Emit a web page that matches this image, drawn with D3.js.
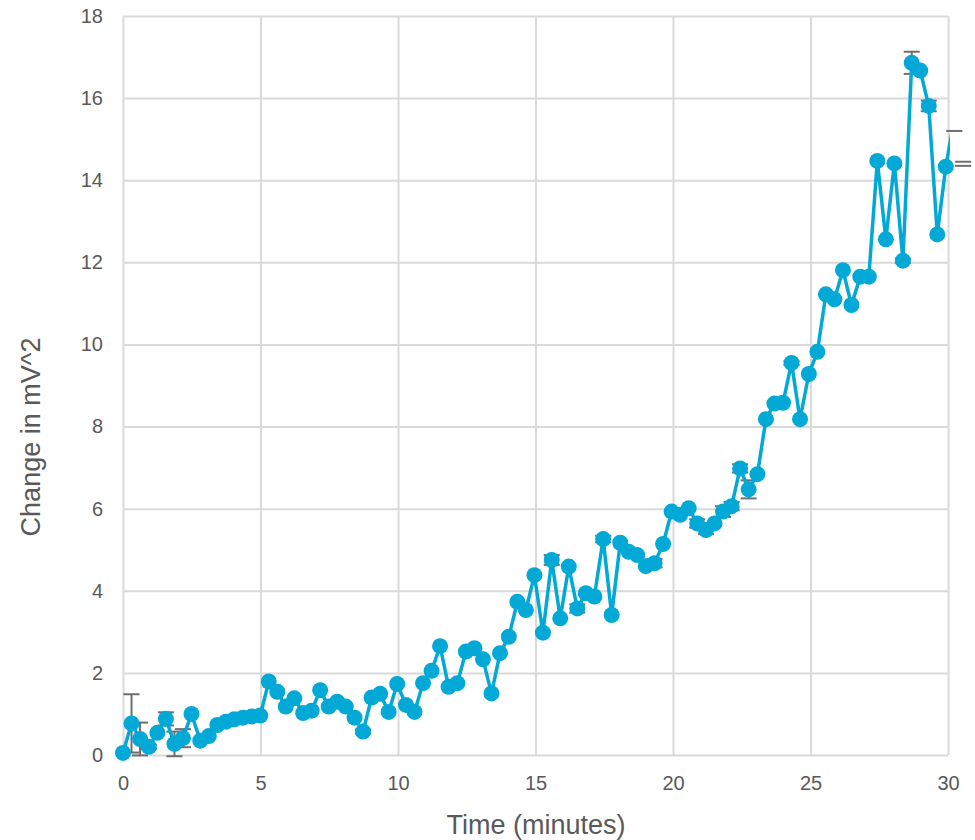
<!DOCTYPE html>
<html>
<head>
<meta charset="utf-8">
<script src="https://cdn.jsdelivr.net/npm/d3@7"></script>
<style>
  body { margin: 0; background: #fff; }
  svg text { font-family: "Liberation Sans", Arial, sans-serif; fill: #595959; }
</style>
</head>
<body>
<svg id="chart"></svg>
<script>
// time in minutes for each reading
const times = [0, 0.31, 0.62, 0.94, 1.25, 1.56, 1.87, 2.18, 2.49, 2.81,
  3.12, 3.43, 3.74, 4.05, 4.36, 4.68, 4.99, 5.30, 5.61, 5.92,
  6.23, 6.55, 6.86, 7.17, 7.48, 7.79, 8.10, 8.42, 8.73, 9.04,
  9.35, 9.66, 9.97, 10.29, 10.60, 10.91, 11.22, 11.53, 11.84, 12.16,
  12.47, 12.78, 13.09, 13.40, 13.71, 14.03, 14.34, 14.65, 14.96, 15.27,
  15.59, 15.90, 16.21, 16.52, 16.83, 17.14, 17.46, 17.77, 18.08, 18.39,
  18.70, 19.01, 19.33, 19.64, 19.95, 20.26, 20.57, 20.88, 21.20, 21.51,
  21.82, 22.13, 22.44, 22.75, 23.07, 23.38, 23.69, 24.00, 24.31, 24.62,
  24.94, 25.25, 25.56, 25.87, 26.18, 26.49, 26.81, 27.12, 27.43, 27.74,
  28.05, 28.36, 28.68, 28.99, 29.30, 29.61, 29.92, 30.23, 30.55];

// change in mV^2
const values = [0.05, 0.77, 0.39, 0.2, 0.54, 0.88, 0.27, 0.41, 1.0, 0.35,
  0.46, 0.73, 0.81, 0.87, 0.91, 0.94, 0.96, 1.79, 1.54, 1.18,
  1.38, 1.02, 1.08, 1.58, 1.18, 1.3, 1.18, 0.91, 0.57, 1.4,
  1.49, 1.05, 1.73, 1.22, 1.05, 1.75, 2.05, 2.65, 1.66, 1.75,
  2.52, 2.6, 2.33, 1.5, 2.48, 2.88, 3.73, 3.53, 4.38, 2.98,
  4.75, 3.33, 4.59, 3.57, 3.94, 3.86, 5.26, 3.41, 5.17, 4.95,
  4.87, 4.6, 4.67, 5.14, 5.93, 5.85, 6.01, 5.64, 5.48, 5.64,
  5.93, 6.06, 6.98, 6.47, 6.84, 8.18, 8.56, 8.58, 9.55, 8.18,
  9.28, 9.82, 11.22, 11.1, 11.81, 10.96, 11.65, 11.65, 14.47, 12.56,
  14.41, 12.04, 16.86, 16.67, 15.81, 12.68, 14.33, 15.5, 14.4];

// error bar sizes (plus / minus)
const errPlus = [0, 0.71, 0.4, 0.05, 0, 0.16, 0.3, 0.22, 0, 0,
  0, 0, 0, 0, 0, 0, 0, 0, 0, 0,
  0, 0, 0, 0, 0, 0, 0, 0, 0.05, 0,
  0, 0, 0, 0, 0, 0, 0, 0, 0, 0,
  0, 0, 0, 0, 0, 0, 0, 0, 0, 0,
  0.12, 0, 0, 0.1, 0, 0, 0.08, 0, 0, 0,
  0, 0, 0.1, 0, 0, 0, 0, 0.1, 0.1, 0,
  0.13, 0.1, 0.1, 0.22, 0, 0, 0, 0, 0.05, 0,
  0, 0, 0, 0, 0, 0, 0, 0, 0, 0,
  0, 0.05, 0.27, 0, 0.13, 0, 0, 0, 0.05];
const errMinus = [0, 0.71, 0.4, 0.05, 0, 0.16, 0.3, 0.22, 0, 0,
  0, 0, 0, 0, 0, 0, 0, 0, 0, 0,
  0, 0, 0, 0, 0, 0, 0, 0, 0.05, 0,
  0, 0, 0, 0, 0, 0, 0, 0, 0, 0,
  0, 0, 0, 0, 0, 0, 0, 0, 0, 0,
  0.12, 0, 0, 0.1, 0, 0, 0.08, 0, 0, 0,
  0, 0, 0.1, 0, 0, 0, 0, 0.1, 0.1, 0,
  0.13, 0.1, 0.1, 0.22, 0, 0, 0, 0, 0.05, 0,
  0, 0, 0, 0, 0, 0, 0, 0, 0, 0,
  0, 0.05, 0.27, 0, 0.13, 0, 0, 0.3, 0.05];

const xTicks = [0, 5, 10, 15, 20, 25, 30];
const yTicks = [0, 2, 4, 6, 8, 10, 12, 14, 16, 18];

const width = 975, height = 840;
const margin = {top: 16, right: 27, bottom: 85, left: 123};
const innerW = width - margin.left - margin.right;
const innerH = height - margin.top - margin.bottom;

const svg = d3.select("#chart").attr("width", width).attr("height", height);
const g = svg.append("g").attr("transform", `translate(${margin.left},${margin.top})`);

const x = d3.scaleLinear().domain([0, 30]).range([0, innerW]);
const y = d3.scaleLinear().domain([0, 18]).range([innerH, 0]);

// grid + labels
const xAxis = g.append("g")
  .attr("transform", `translate(0,${innerH})`)
  .call(d3.axisBottom(x).tickValues(xTicks).tickSize(-innerH).tickPadding(21));
const yAxis = g.append("g")
  .call(d3.axisLeft(y).tickValues(yTicks).tickSize(-innerW).tickPadding(20));
[xAxis, yAxis].forEach(a => {
  a.select(".domain").remove();
  a.selectAll("line").attr("stroke", "#d9d9d9").attr("stroke-width", 2);
  a.selectAll("text").attr("font-size", 20).style("fill", "#595959")
    .attr("font-family", "Liberation Sans, Arial, sans-serif");
});

g.append("defs").append("clipPath").attr("id", "plotclip")
  .append("rect").attr("x", -20).attr("y", -20).attr("width", innerW + 2 + 20).attr("height", innerH + 40);

const pts = times.map((t, i) => ({t, v: values[i], ep: errPlus[i], em: errMinus[i]}));
const inside = pts.filter(d => d.t <= 30);

// error bars
const eb = g.append("g").attr("stroke", "#6e6e6e").attr("stroke-width", 2);
eb.selectAll(".stem").data(inside.filter(d => d.ep > 0 || d.em > 0)).join("line")
  .attr("x1", d => x(d.t)).attr("x2", d => x(d.t))
  .attr("y1", d => y(d.v + d.ep)).attr("y2", d => y(d.v - d.em));
eb.selectAll(".capTop").data(pts.filter(d => d.ep > 0)).join("line")
  .attr("x1", d => x(d.t) - 8).attr("x2", d => x(d.t) + 8)
  .attr("y1", d => y(d.v + d.ep)).attr("y2", d => y(d.v + d.ep));
eb.selectAll(".capBot").data(pts.filter(d => d.em > 0)).join("line")
  .attr("x1", d => x(d.t) - 8).attr("x2", d => x(d.t) + 8)
  .attr("y1", d => y(d.v - d.em)).attr("y2", d => y(d.v - d.em));

// line
g.append("path")
  .datum(pts)
  .attr("clip-path", "url(#plotclip)")
  .attr("fill", "none")
  .attr("stroke", "#02a9d6")
  .attr("stroke-width", 3.5)
  .attr("stroke-linejoin", "round")
  .attr("d", d3.line().x(d => x(d.t)).y(d => y(d.v)));

// markers
g.selectAll(".dot").data(inside).join("circle")
  .attr("cx", d => x(d.t)).attr("cy", d => y(d.v)).attr("r", 8)
  .attr("fill", "#02a9d6");

// axis titles
svg.append("text")
  .attr("x", 536).attr("y", 834)
  .attr("text-anchor", "middle").attr("font-size", 27)
  .text("Time (minutes)");
svg.append("text")
  .attr("transform", "translate(40,437) rotate(-90)")
  .attr("text-anchor", "middle").attr("font-size", 27)
  .text("Change in mV^2");
</script>
</body>
</html>
